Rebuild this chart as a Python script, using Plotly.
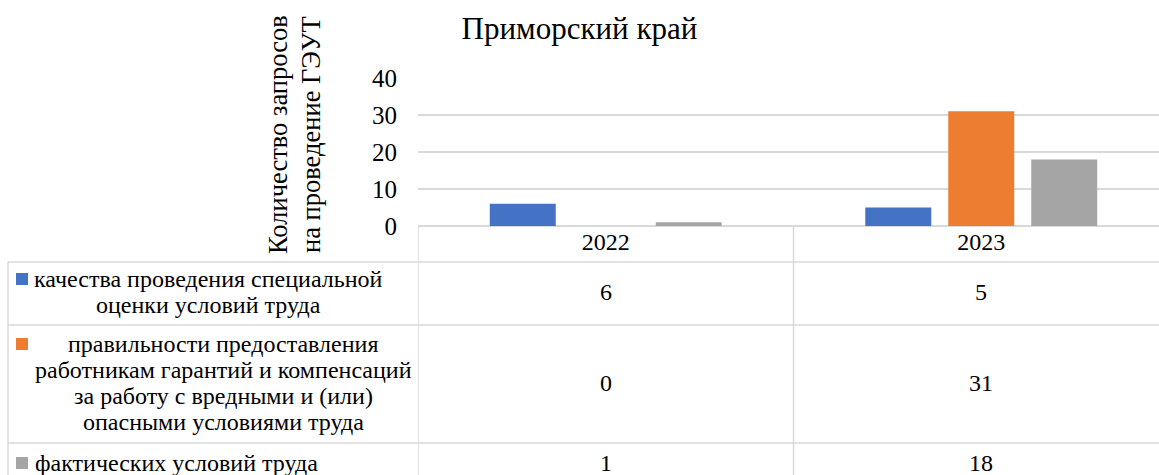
import plotly.graph_objects as go

# ---- data ----
years = ["2022", "2023"]
series_names = [
    "качества проведения специальной<br>оценки условий труда",
    "правильности предоставления<br>работникам гарантий и компенсаций<br>за работу с вредными и (или)<br>опасными условиями труда",
    "фактических условий труда",
]
series_values = [
    [6, 5],
    [0, 31],
    [1, 18],
]
colors = ["#4472C4", "#ED7D31", "#A5A5A5"]
title_text = "Приморский край"
ytitle = "Количество запросов<br>на проведение ГЭУТ"

W, H = 1159, 475
PL, PR, PT, PB = 418, 1159, 78, 226  # plot area in pixels
FONT = "Times New Roman, Liberation Serif, DejaVu Serif, serif"
GRID = "#D9D9D9"


def px(xp):
    return (xp - PL) / (PR - PL)


def py(yp):
    return (PB - yp) / (PB - PT)


fig = go.Figure()
for name, vals, c in zip(series_names, series_values, colors):
    fig.add_trace(go.Bar(x=years, y=vals, name=name.replace("<br>", " "),
                         marker=dict(color=c, line=dict(width=0))))

fig.update_layout(
    width=W, height=H,
    margin=dict(l=PL, r=W - PR, t=PT, b=H - PB, pad=0),
    paper_bgcolor="white", plot_bgcolor="white",
    showlegend=False,
    barmode="group", bargap=0.337, bargroupgap=0.205,
    font=dict(family=FONT, color="black"),
    title=dict(text=title_text, x=0.5, xref="container", xanchor="center",
               y=1 - 28 / H, yref="container", yanchor="middle",
               font=dict(family=FONT, size=31, color="black")),
)
fig.update_yaxes(range=[0, 40], dtick=10, showgrid=True, gridcolor=GRID, gridwidth=1.5,
                 zeroline=True, zerolinecolor=GRID, zerolinewidth=1.5,
                 showline=False, ticks="", ticklabelstandoff=20,
                 tickfont=dict(family=FONT, size=25, color="black"))
fig.update_xaxes(type="category", range=[-0.5, -0.5 + (PR - PL) / 375.5],
                 showgrid=False, showline=False, ticks="",
                 ticklabelstandoff=-1,
                 tickfont=dict(family=FONT, size=24, color="black"))

# y axis title (two lines, rotated)
for k, t in enumerate(ytitle.split("<br>")):
    fig.add_annotation(text=t, textangle=-90, xref="paper", yref="paper",
                       x=px(278 + 33 * k), y=py(135), xanchor="center", yanchor="middle",
                       showarrow=False, font=dict(family=FONT, size=26.5, color="black"))

# ---- data table ----
line = dict(color=GRID, width=1.5)
row_tops = [262, 325, 443]
row_bottom = 483
for yl in row_tops:
    fig.add_shape(type="line", xref="paper", yref="paper", x0=px(8), x1=1,
                  y0=py(yl), y1=py(yl), line=line)
fig.add_shape(type="line", xref="paper", yref="paper", x0=px(8), x1=px(8),
              y0=py(262), y1=py(row_bottom), line=line)
for xv in [-0.5, 0.5]:
    fig.add_shape(type="line", xref="x", yref="paper", x0=xv, x1=xv,
                  y0=0, y1=py(row_bottom), line=line)

row_centers = [292, 383, 463]
LINE_H = 26
label_x = [208, 223, 33]
label_anchor = ["center", "center", "left"]
for i, (name, vals, c) in enumerate(zip(series_names, series_values, colors)):
    lines = name.split("<br>")
    y_first = row_centers[i] - LINE_H * (len(lines) - 1) / 2
    fig.add_shape(type="rect", xref="paper", yref="paper",
                  x0=px(16), x1=px(28), y0=py(y_first - 6), y1=py(y_first + 6),
                  fillcolor=c, line=dict(width=0))
    for k, ln in enumerate(lines):
        fig.add_annotation(text=ln, xref="paper", yref="paper",
                           x=px(label_x[i]), y=py(y_first + LINE_H * k),
                           xanchor=label_anchor[i], yanchor="middle", showarrow=False,
                           font=dict(family=FONT, size=24, color="black"))
    for j, yr in enumerate(years):
        fig.add_annotation(text=str(vals[j]), xref="x", yref="paper",
                           x=j, y=py(row_centers[i]), xanchor="center", yanchor="middle",
                           showarrow=False, font=dict(family=FONT, size=24, color="black"))

fig.write_html("out.html", config={"displayModeBar": False},
               post_script="document.body.style.margin='0';document.body.style.padding='0';")
